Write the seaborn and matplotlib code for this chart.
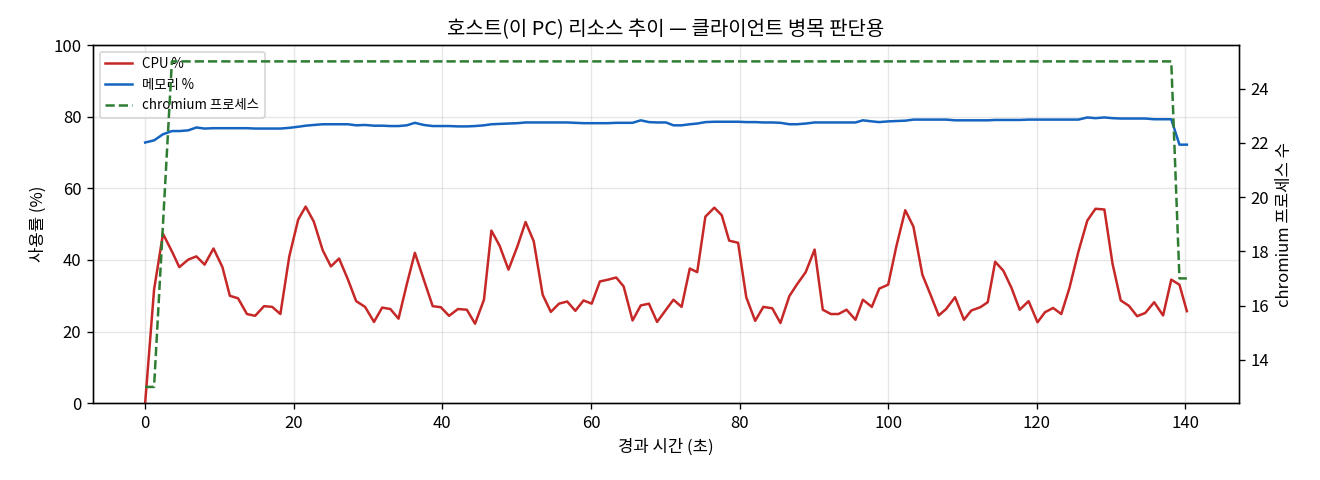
import matplotlib
matplotlib.use("Agg")
import matplotlib.pyplot as plt
import seaborn as sns

plt.rcParams['font.family'] = ['Noto Sans CJK KR', 'DejaVu Sans']
plt.rcParams['axes.unicode_minus'] = False

# elapsed time (s)
elapsed = [0, 1.2, 2.4, 3.6, 4.6, 5.8, 6.9, 8.0, 9.2, 10.4,
           11.4, 12.5, 13.7, 14.8, 16.0, 17.1, 18.2, 19.4, 20.6, 21.6,
           22.7, 23.9, 25.0, 26.1, 27.3, 28.4, 29.6, 30.8, 31.9, 33.0,
           34.1, 35.2, 36.3, 37.5, 38.7, 39.8, 40.9, 42.1, 43.3, 44.4,
           45.6, 46.6, 47.7, 48.9, 50.1, 51.2, 52.3, 53.5, 54.6, 55.7,
           56.8, 57.9, 59.0, 60.1, 61.2, 62.3, 63.4, 64.4, 65.6, 66.7,
           67.8, 68.9, 70.1, 71.1, 72.2, 73.3, 74.3, 75.4, 76.6, 77.6,
           78.6, 79.8, 80.9, 82.1, 83.2, 84.4, 85.5, 86.7, 87.7, 88.9,
           90.1, 91.2, 92.3, 93.3, 94.4, 95.6, 96.6, 97.8, 98.8, 100.0,
           101.1, 102.3, 103.4, 104.6, 105.7, 106.8, 107.8, 109.0, 110.2, 111.2,
           112.4, 113.4, 114.4, 115.5, 116.6, 117.7, 118.9, 120.1, 121.1, 122.2,
           123.3, 124.4, 125.6, 126.8, 127.9, 129.1, 130.2, 131.3, 132.4, 133.5,
           134.6, 135.8, 137.0, 138.1, 139.2, 140.2]

cpu = [0, 31.7, 47.3, 42.4, 38.0, 40.1, 41.0, 38.7, 43.2, 38.0,
       30.0, 29.3, 24.9, 24.4, 27.1, 26.9, 24.9, 41.0, 51.3, 54.9,
       50.7, 42.7, 38.2, 40.4, 34.5, 28.5, 26.9, 22.7, 26.7, 26.3,
       23.6, 33.1, 42.0, 34.5, 27.1, 26.8, 24.4, 26.3, 26.1, 22.2,
       28.9, 48.2, 44.0, 37.3, 43.8, 50.6, 45.2, 30.3, 25.5, 27.8,
       28.4, 25.8, 28.7, 27.8, 34.0, 34.5, 35.1, 32.6, 23.1, 27.3,
       27.8, 22.7, 26.1, 28.9, 26.9, 37.6, 36.6, 52.1, 54.6, 52.5,
       45.4, 44.8, 29.6, 23.0, 26.9, 26.5, 22.4, 29.9, 33.1, 36.6,
       42.9, 26.1, 24.9, 24.9, 26.1, 23.3, 28.9, 26.9, 32.0, 33.1,
       43.8, 53.9, 49.3, 35.9, 30.3, 24.5, 26.3, 29.6, 23.3, 25.9,
       26.8, 28.2, 39.5, 37.0, 32.2, 26.1, 28.5, 22.6, 25.4, 26.6,
       24.9, 32.2, 42.3, 51.0, 54.3, 54.1, 38.9, 28.7, 27.2, 24.3,
       25.2, 28.2, 24.5, 34.5, 33.1, 25.7]

memory = [72.8, 73.4, 75.1, 76.0, 76.0, 76.2, 77.0, 76.7, 76.8, 76.8,
          76.8, 76.8, 76.8, 76.7, 76.7, 76.7, 76.7, 76.9, 77.2, 77.5,
          77.7, 77.9, 77.9, 77.9, 77.9, 77.6, 77.7, 77.5, 77.5, 77.4,
          77.4, 77.6, 78.3, 77.7, 77.4, 77.4, 77.4, 77.3, 77.3, 77.4,
          77.6, 77.9, 78.0, 78.1, 78.2, 78.4, 78.4, 78.4, 78.4, 78.4,
          78.4, 78.3, 78.2, 78.2, 78.2, 78.2, 78.3, 78.3, 78.3, 79.0,
          78.5, 78.4, 78.4, 77.6, 77.6, 77.9, 78.1, 78.5, 78.6, 78.6,
          78.6, 78.6, 78.5, 78.5, 78.4, 78.4, 78.3, 77.9, 77.9, 78.1,
          78.4, 78.4, 78.4, 78.4, 78.4, 78.4, 79.0, 78.7, 78.5, 78.7,
          78.8, 78.9, 79.2, 79.2, 79.2, 79.2, 79.2, 79.0, 79.0, 79.0,
          79.0, 79.0, 79.1, 79.1, 79.1, 79.1, 79.2, 79.2, 79.2, 79.2,
          79.2, 79.2, 79.2, 79.8, 79.6, 79.8, 79.6, 79.5, 79.5, 79.5,
          79.5, 79.3, 79.3, 79.3, 72.2, 72.2]

chromium = [13, 13, 19] + [25] * 121 + [17, 17]

fig, ax1 = plt.subplots(figsize=(11, 4), dpi=120)
ax2 = ax1.twinx()

sns.lineplot(x=elapsed, y=cpu, ax=ax1, color='#c62828', linewidth=1.5, label='CPU %')
sns.lineplot(x=elapsed, y=memory, ax=ax1, color='#1565c0', linewidth=1.5, label='메모리 %')
sns.lineplot(x=elapsed, y=chromium, ax=ax2, color='#2e7d32', linewidth=1.5,
             linestyle='--', label='chromium 프로세스')

ax1.set_ylim(0, 100)
ax1.set_xlabel('경과 시간 (초)')
ax1.set_ylabel('사용률 (%)')
ax2.set_ylabel('chromium 프로세스 수')
ax1.set_title('호스트(이 PC) 리소스 추이 — 클라이언트 병목 판단용', fontsize=12)
ax1.grid(alpha=0.3)

# one legend for both axes
h1, l1 = ax1.get_legend_handles_labels()
h2, l2 = ax2.get_legend_handles_labels()
ax2.get_legend().remove()
ax1.legend(h1 + h2, l1 + l2, loc='upper left', fontsize=8)

fig.subplots_adjust(left=0.0705, right=0.9386, top=0.906, bottom=0.16)
fig.savefig('out.png')
